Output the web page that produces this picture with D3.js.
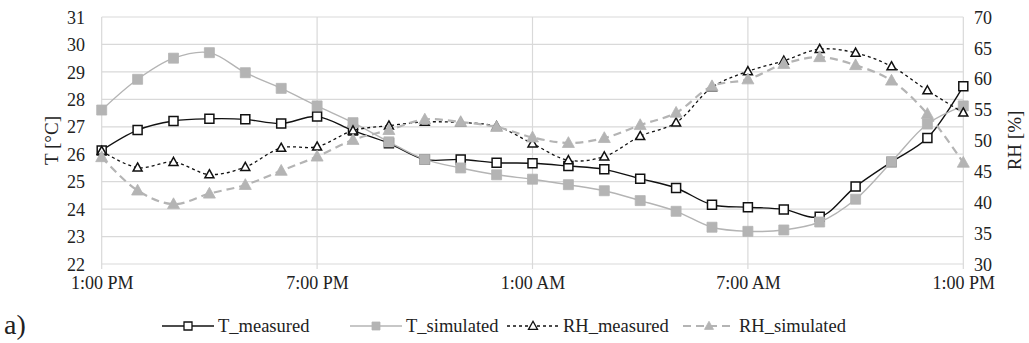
<!DOCTYPE html>
<html>
<head>
<meta charset="utf-8">
<script src="https://cdn.jsdelivr.net/npm/d3@7"></script>
<style>
  html, body { margin: 0; padding: 0; background: #fff; }
  svg { display: block; }
  svg text { font-family: "Liberation Serif", "Times New Roman", Times, serif; fill: #222; }
</style>
</head>
<body>
<svg id="chart" width="1029" height="343"></svg>
<script>
// Hours since 1:00 PM, one reading per hour over a full day
const hours = d3.range(0, 25);

const tMeasured = [26.14, 26.88, 27.21, 27.29, 27.27, 27.12, 27.37, 26.86, 26.40, 25.81,
  25.81, 25.69, 25.67, 25.57, 25.45, 25.11, 24.77, 24.16, 24.07, 23.99,
  23.72, 24.82, 25.72, 26.59, 28.48];

const tSimulated = [27.61, 28.73, 29.50, 29.70, 28.97, 28.40, 27.76, 27.15, 26.45, 25.81,
  25.50, 25.25, 25.09, 24.89, 24.67, 24.31, 23.92, 23.34, 23.19, 23.24,
  23.53, 24.36, 25.72, 27.10, 27.76];

const rhMeasured = [48.3, 45.6, 46.5, 44.5, 45.7, 48.8, 49.0, 51.6, 52.4, 53.0,
  52.9, 52.3, 49.5, 46.8, 47.4, 50.7, 52.9, 58.6, 61.2, 62.9,
  64.8, 64.2, 62.0, 58.1, 54.5];

const rhSimulated = [47.3, 41.9, 39.7, 41.4, 42.8, 45.1, 47.4, 50.1, 51.7, 53.4,
  53.0, 52.2, 50.5, 49.6, 50.4, 52.5, 54.5, 58.8, 59.9, 62.4,
  63.5, 62.2, 59.7, 54.3, 46.4];

const xTickHours = [0, 6, 12, 18, 24];
const xTickLabels = ["1:00 PM", "7:00 PM", "1:00 AM", "7:00 AM", "1:00 PM"];
const tTicks = d3.range(22, 32, 1);
const rhTicks = d3.range(30, 75, 5);

const legendNames = ["T_measured", "T_simulated", "RH_measured", "RH_simulated"];

const FONT = "'Liberation Serif', 'Times New Roman', serif";

const svg = d3.select("#chart");

const x = d3.scaleLinear().domain([0, 24]).range([101.7, 963.3]);
const yT = d3.scaleLinear().domain([22, 31]).range([264, 17]);
const yRH = d3.scaleLinear().domain([30, 70]).range([264, 17]);

const grid = "#d9d9d9";

// Horizontal gridlines
svg.append("g").selectAll("line").data(tTicks).join("line")
  .attr("x1", x(0)).attr("x2", x(24))
  .attr("y1", d => yT(d)).attr("y2", d => yT(d))
  .attr("stroke", grid).attr("stroke-width", 1.2);

// Vertical gridlines at the labelled hours (extend slightly below as ticks)
svg.append("g").selectAll("line").data(xTickHours).join("line")
  .attr("x1", d => x(d)).attr("x2", d => x(d))
  .attr("y1", yT(31)).attr("y2", yT(22) + 5)
  .attr("stroke", grid).attr("stroke-width", 1.2);

function styleAxis(g) {
  g.attr("font-family", FONT).attr("font-size", 18);
  g.select(".domain").remove();
  g.selectAll("text").attr("fill", "#222");
}

// Left axis (temperature)
const gl = svg.append("g").attr("transform", "translate(85,0)")
  .call(d3.axisLeft(yT).tickValues(tTicks).tickSize(0).tickPadding(0));
styleAxis(gl);
gl.selectAll("text").attr("dy", "0.34em");

// Right axis (relative humidity)
const gr = svg.append("g").attr("transform", "translate(974,0)")
  .call(d3.axisRight(yRH).tickValues(rhTicks).tickSize(0).tickPadding(0));
styleAxis(gr);
gr.selectAll("text").attr("dy", "0.34em");

// Bottom axis (time of day)
const gb = svg.append("g").attr("transform", "translate(0,276)")
  .call(d3.axisBottom(x).tickValues(xTickHours)
    .tickFormat((d, i) => xTickLabels[i]).tickSize(0).tickPadding(0));
styleAxis(gb);
gb.selectAll("text").attr("dy", "0.72em");

// Axis titles
svg.append("text").attr("transform", `translate(51,${yT(26.5)}) rotate(-90)`)
  .attr("text-anchor", "middle").attr("dy", "0.35em")
  .attr("font-family", FONT).attr("font-size", 19).text("T [°C]");
svg.append("text").attr("transform", `translate(1014,${yT(26.5)}) rotate(-90)`)
  .attr("text-anchor", "middle").attr("dy", "0.35em")
  .attr("font-family", FONT).attr("font-size", 19).text("RH [%]");

// Panel label
svg.append("text").attr("x", 4).attr("y", 334)
  .attr("font-family", FONT).attr("font-size", 28).text("a)");

const curve = d3.curveCatmullRom.alpha(0.5);

const series = [
  { name: legendNames[0], values: tMeasured, y: yT, color: "#111", width: 1.4, dash: null, marker: "square", fill: "#fff", stroke: "#111", size: 9 },
  { name: legendNames[1], values: tSimulated, y: yT, color: "#b4b4b4", width: 1.4, dash: null, marker: "square", fill: "#b4b4b4", stroke: "#b4b4b4", size: 10 },
  { name: legendNames[2], values: rhMeasured, y: yRH, color: "#111", width: 1.3, dash: "3,3", marker: "triangle", fill: "#fff", stroke: "#111", size: 9 },
  { name: legendNames[3], values: rhSimulated, y: yRH, color: "#b4b4b4", width: 2.2, dash: "8,5", marker: "triangle", fill: "#b4b4b4", stroke: "#b4b4b4", size: 12 }
];

function markerPath(type, s) {
  const h = s / 2;
  if (type === "square") return `M${-h},${-h}H${h}V${h}H${-h}Z`;
  return `M0,${-h * 1.05}L${h},${h * 0.75}L${-h},${h * 0.75}Z`;
}

series.forEach(s => {
  const line = d3.line().x((d, i) => x(hours[i])).y(d => s.y(d)).curve(curve);
  const g = svg.append("g");
  g.append("path").datum(s.values).attr("d", line)
    .attr("fill", "none").attr("stroke", s.color).attr("stroke-width", s.width)
    .attr("stroke-dasharray", s.dash);
  g.selectAll("path.m").data(s.values).join("path").attr("class", "m")
    .attr("transform", (d, i) => `translate(${x(hours[i])},${s.y(d)})`)
    .attr("d", markerPath(s.marker, s.size))
    .attr("fill", s.fill).attr("stroke", s.stroke).attr("stroke-width", s.fill === "#fff" ? 1.5 : 0.8);
});

// Legend
const legendX = [162, 350, 507, 683];
const lg = svg.append("g").attr("transform", "translate(0,326)");
series.forEach((s, i) => {
  const item = lg.append("g").attr("transform", `translate(${legendX[i]},0)`);
  item.append("line").attr("x1", 0).attr("x2", 52).attr("y1", 0).attr("y2", 0)
    .attr("stroke", s.color).attr("stroke-width", s.width).attr("stroke-dasharray", s.dash);
  item.append("path").attr("transform", "translate(26,0)")
    .attr("d", markerPath(s.marker, s.marker === "square" ? 8 : 9))
    .attr("fill", s.fill).attr("stroke", s.stroke).attr("stroke-width", s.fill === "#fff" ? 1.3 : 0.8);
  item.append("text").attr("x", 56).attr("dy", "0.35em")
    .attr("font-family", FONT).attr("font-size", 18.5).text(s.name);
});
</script>
</body>
</html>
